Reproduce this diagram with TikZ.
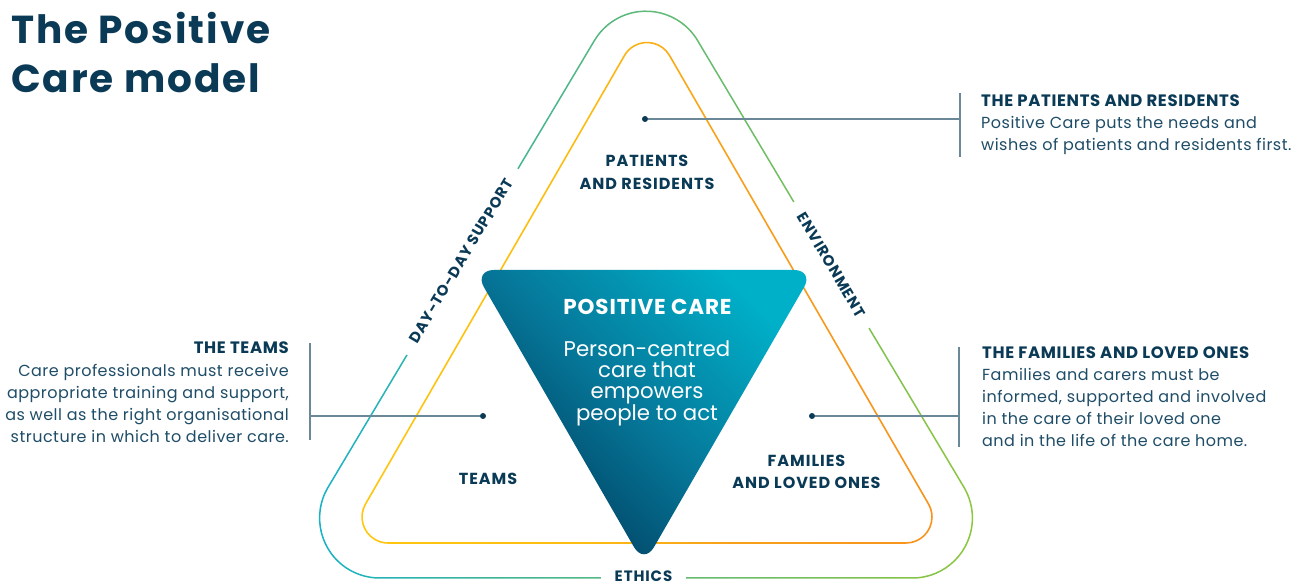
\documentclass[tikz,border=0pt]{standalone}
\usepackage{fontspec}
\setmainfont{Poppins}
\newfontfamily\capsf{Poppins}[LetterSpace=6.0]
\newfontfamily\headf{Poppins}[LetterSpace=4.0]
\newfontfamily\bodyf{Poppins}[LetterSpace=3.0]
\newfontfamily\titlef{Poppins}[LetterSpace=5.0]
\newfontfamily\ctf{Poppins}[LetterSpace=4.0]
\usetikzlibrary{calc}
\definecolor{navy}{HTML}{0A3A56}
\definecolor{bodytxt}{HTML}{1F4D68}
\definecolor{connc}{HTML}{6A8898}
\definecolor{ocyan}{HTML}{17B2C8}
\definecolor{oteal}{HTML}{3CB59A}
\definecolor{ogreen}{HTML}{5FB97A}
\definecolor{oyg}{HTML}{8DC63F}
\definecolor{iyel}{HTML}{FFC710}
\definecolor{iyel2}{HTML}{FCBC12}
\definecolor{iamb}{HTML}{FAB016}
\definecolor{iora2}{HTML}{F7A01B}
\definecolor{iora}{HTML}{F7931E}
\definecolor{pcyan}{HTML}{00AFC8}
\definecolor{pmid}{HTML}{06789A}
\definecolor{pnavy}{HTML}{003A5A}
\pgfdeclarehorizontalshading{outerg}{100bp}{color(0bp)=(ocyan); color(25bp)=(ocyan); color(38bp)=(oteal); color(50bp)=(ogreen); color(75bp)=(oyg); color(100bp)=(oyg)}
\pgfdeclarehorizontalshading{innerg}{100bp}{color(0bp)=(iyel); color(25bp)=(iyel); color(45bp)=(iyel2); color(50bp)=(iamb); color(58bp)=(iora2); color(75bp)=(iora); color(100bp)=(iora)}
\tikzset{
  dotn/.style={circle, fill=navy, inner sep=0pt, minimum size=6pt},
  conn/.style={draw=connc, line width=1.4pt},
  lab/.style={font=\capsf\bfseries\fontsize{16}{18}\selectfont, text=navy, inner sep=0pt, anchor=base},
  ringlab/.style={font=\capsf\bfseries\fontsize{15}{17}\selectfont, text=navy, fill=white, inner xsep=14pt, inner ysep=3pt},
  headt/.style={font=\headf\bfseries\fontsize{16.5}{18}\selectfont, text=navy, inner sep=0pt},
  bodyt/.style={font=\bodyf\fontsize{16}{18}\selectfont, text=bodytxt, inner sep=0pt},
  ctitle/.style={font=\ctf\bfseries\fontsize{21.5}{24}\selectfont, text=white, inner sep=0pt, anchor=base},
  cbody/.style={font=\fontsize{21.3}{24}\selectfont, text=white, inner sep=0pt, anchor=base},
  titlet/.style={font=\titlef\bfseries\fontsize{39}{42}\selectfont, text=navy, inner sep=0pt, anchor=base west},
}
\begin{document}
\begin{tikzpicture}[x=1pt,y=1pt]
\useasboundingbox (0,0) rectangle (1301,583);
\fill[white] (0,0) rectangle (1301,583);

% outer ring
\shade[shading=outerg, even odd rule]
  (379.6,5.75) -- (912.4,5.75) arc[start angle=-90,end angle=30.8,radius=59.25pt]
  -- ($(646,511.8)+(30.8:59.25pt)$) arc[start angle=30.8,end angle=149.2,radius=59.25pt]
  -- ($(379.6,65)+(149.2:59.25pt)$) arc[start angle=149.2,end angle=270,radius=59.25pt] -- cycle
  (379.6,4.25) -- (912.4,4.25) arc[start angle=-90,end angle=30.8,radius=60.75pt]
  -- ($(646,511.8)+(30.8:60.75pt)$) arc[start angle=30.8,end angle=149.2,radius=60.75pt]
  -- ($(379.6,65)+(149.2:60.75pt)$) arc[start angle=149.2,end angle=270,radius=60.75pt] -- cycle;

% inner ring
\shade[shading=innerg, even odd rule]
  (388.03,40.8) -- (905.97,40.8) arc[start angle=-90,end angle=30,radius=25.2pt]
  -- ($(647,514.5)+(30:25.2pt)$) arc[start angle=30,end angle=150,radius=25.2pt]
  -- ($(388.03,66)+(150:25.2pt)$) arc[start angle=150,end angle=270,radius=25.2pt] -- cycle
  (388.03,39.2) -- (905.97,39.2) arc[start angle=-90,end angle=30,radius=26.8pt]
  -- ($(647,514.5)+(30:26.8pt)$) arc[start angle=30,end angle=150,radius=26.8pt]
  -- ($(388.03,66)+(150:26.8pt)$) arc[start angle=150,end angle=270,radius=26.8pt] -- cycle;

% central triangle
\shade[top color=pcyan, bottom color=pnavy, middle color=pmid, shading angle=-45, rounded corners=20pt]
  (474,313) -- (814,313) -- (644,18.6) -- cycle;

% ring labels
\node[ringlab, rotate=59.2] (dts) at (461,322) {DAY-TO-DAY SUPPORT};
\node[ringlab, rotate=-59.2] (env) at (831.5,318) {ENVIRONMENT};
\node[ringlab, anchor=base] (eth) at (643.5,1.5) {ETHICS};

% connectors
\node[dotn] (pd) at (645,464) {};
\coordinate (pb) at (960,464);
\coordinate (pbt) at (960,490);
\coordinate (pbb) at (960,426);
\draw[conn] (pd) -- (pb);
\draw[conn] (pbt) -- (pbb);

\node[dotn] (fd) at (812,167) {};
\coordinate (fb) at (959,167);
\coordinate (fbt) at (959,236);
\coordinate (fbb) at (959,136);
\draw[conn] (fd) -- (fb);
\draw[conn] (fbt) -- (fbb);

\node[dotn] (td) at (483,167) {};
\coordinate (tb) at (310,167);
\coordinate (tbt) at (310,240);
\coordinate (tbb) at (310,143);
\draw[conn] (td) -- (tb);
\draw[conn] (tbt) -- (tbb);

% title
\node[titlet] (t1) at (11,539) {The Positive};
\node[titlet] (t2) at (11,490) {Care model};

% inner labels
\node[lab] (pr1) at (647,416) {PATIENTS};
\node[lab] (pr2) at (647,393) {AND RESIDENTS};
\node[lab] (tm) at (488,98) {TEAMS};
\node[lab] (fl1) at (806.5,116) {FAMILIES};
\node[lab] (fl2) at (806.5,94) {AND LOVED ONES};

% central text
\node[ctitle] (pc) at (647.5,268) {POSITIVE CARE};
\node[cbody] (pc1) at (647,226) {Person-centred};
\node[cbody] (pc2) at (647,205) {care that};
\node[cbody] (pc3) at (647,184) {empowers};
\node[cbody] (pc4) at (647,162) {people to act};

% right top block
\node[headt, anchor=base west] (ph) at (981,476) {THE PATIENTS AND RESIDENTS};
\node[bodyt, anchor=base west] (pb1) at (981,454) {Positive Care puts the needs and};
\node[bodyt, anchor=base west] (pb2) at (981,432) {wishes of patients and residents first.};

% right bottom block
\node[headt, anchor=base west] (fh) at (982,224) {THE FAMILIES AND LOVED ONES};
\node[bodyt, anchor=base west] (fb1) at (982,202) {Families and carers must be};
\node[bodyt, anchor=base west] (fb2) at (982,180) {informed, supported and involved};
\node[bodyt, anchor=base west] (fb3) at (982,158) {in the care of their loved one};
\node[bodyt, anchor=base west] (fb4) at (982,136) {and in the life of the care home.};

% left block
\node[headt, anchor=base east] (th) at (289,229) {THE TEAMS};
\node[bodyt, anchor=base east] (tb1) at (289,206) {Care professionals must receive};
\node[bodyt, anchor=base east] (tb2) at (289,184) {appropriate training and support,};
\node[bodyt, anchor=base east] (tb3) at (289,162) {as well as the right organisational};
\node[bodyt, anchor=base east] (tb4) at (289,140) {structure in which to deliver care.};
\end{tikzpicture}
\end{document}
